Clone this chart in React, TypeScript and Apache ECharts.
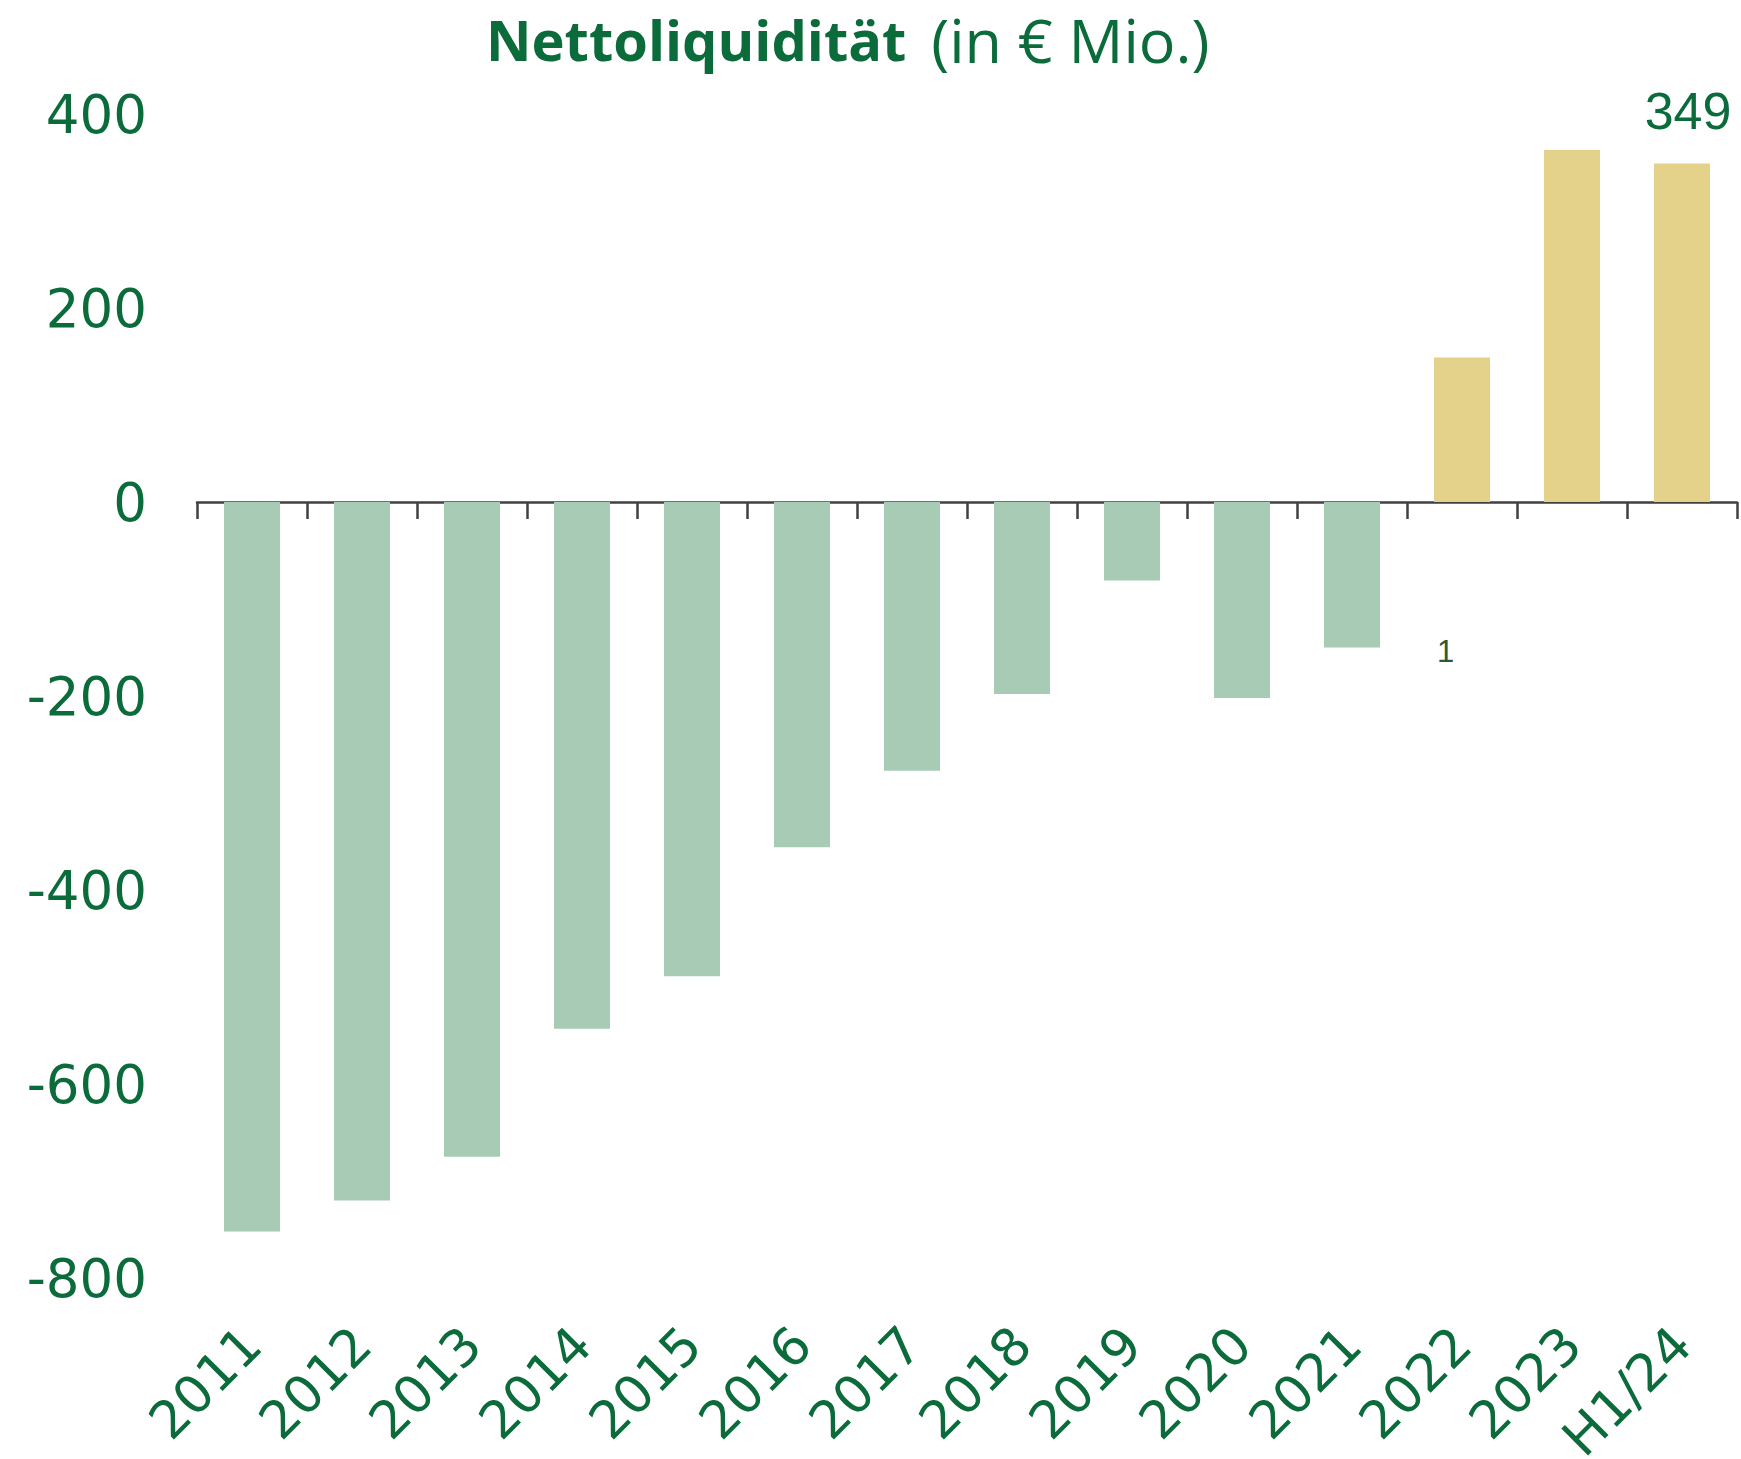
import React, { useEffect, useRef } from "react";
import * as echarts from "echarts";

const categories = ["2011", "2012", "2013", "2014", "2015", "2016", "2017", "2018", "2019", "2020", "2021", "2022", "2023", "H1/24"];
const values = [-752, -720, -675, -543, -489, -356, -277, -198, -81, -202, -150, 149, 363, 349];
const labelledCategory = "H1/24";
const footnoteMarker = "1";
const titleBold = "Nettoliquidität";
const titleRegular = "(in € Mio.)";

const GREEN_TEXT = "#0b6b3a";
const NEG_COLOR = "#a7cbb5";
const POS_COLOR = "#e4d28a";

export default function App() {
  const ref = useRef<HTMLDivElement>(null);
  useEffect(() => {
    if (!ref.current) return;
    const chart = echarts.init(ref.current, null, { renderer: "svg" });
    const data = values.map((v, i) => {
      const item: any = {
        value: v,
        itemStyle: { color: v >= 0 ? POS_COLOR : NEG_COLOR },
      };
      if (categories[i] === labelledCategory) {
        item.label = {
          show: true,
          position: "top",
          distance: 26,
          offset: [6, 0],
          formatter: "{c}",
          fontFamily: "Liberation Sans",
          fontSize: 52,
          color: GREEN_TEXT,
        };
      }
      return item;
    });
    chart.setOption({
      animation: false,
      backgroundColor: "#ffffff",
      title: {
        left: 486,
        top: 7,
        padding: 0,
        text: `{b|${titleBold}}{r| ${titleRegular}}`,
        textStyle: {
          rich: {
            b: { fontFamily: "Open Sans", fontWeight: "bold", fontSize: 56, lineHeight: 64, color: GREEN_TEXT },
            r: { fontFamily: "Open Sans", fontWeight: "normal", fontSize: 61, lineHeight: 64, color: GREEN_TEXT, padding: [0, 0, 0, 9] },
          },
        },
      },
      grid: { left: 197, right: 4, top: 114, bottom: 181, containLabel: false, outerBoundsMode: "none" },
      xAxis: [
        {
          type: "category",
          data: categories,
          position: "bottom",
          axisLine: { show: true, onZero: true, lineStyle: { color: "#404040", width: 2.5 } },
          axisTick: { show: true, length: 17, alignWithLabel: false, lineStyle: { color: "#404040", width: 2.5 } },
          axisLabel: { show: false },
          splitLine: { show: false },
        },
        {
          type: "category",
          data: categories,
          position: "bottom",
          axisLine: { show: false, onZero: false },
          axisTick: { show: false },
          axisLabel: {
            show: true,
            rotate: 45,
            margin: 58,
            interval: 0,
            fontFamily: "DejaVu Sans",
            fontSize: 52,
            color: GREEN_TEXT,
          },
          splitLine: { show: false },
        },
      ],
      yAxis: {
        type: "value",
        min: -800,
        max: 400,
        interval: 200,
        axisLine: { show: false },
        axisTick: { show: false },
        splitLine: { show: false },
        axisLabel: {
          margin: 50,
          fontFamily: "DejaVu Sans",
          fontSize: 53,
          color: GREEN_TEXT,
        },
      },
      graphic: [
        {
          type: "text",
          left: 1437,
          top: 636,
          style: {
            text: footnoteMarker,
            fontFamily: "Liberation Sans",
            fontSize: 31,
            fontWeight: "normal",
            fill: "#2d5a36",
          },
        },
      ],
      series: [
        {
          type: "bar",
          xAxisIndex: 0,
          yAxisIndex: 0,
          data,
          barWidth: 56,
          label: { show: false },
        },
      ],
    });
    return () => chart.dispose();
  }, []);
  return (
    <div
      ref={ref}
      style={{ position: "absolute", left: 0, top: 0, width: 1741, height: 1459 }}
    />
  );
}
